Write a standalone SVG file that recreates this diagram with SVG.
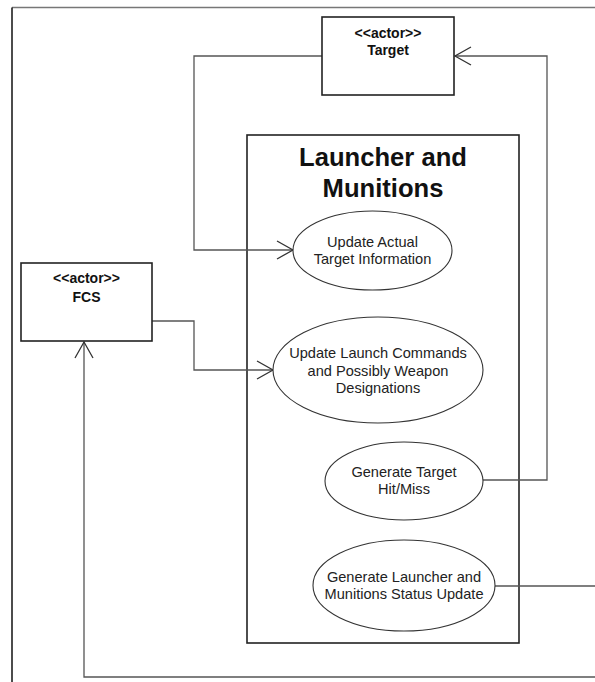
<svg xmlns="http://www.w3.org/2000/svg" width="595" height="682" viewBox="0 0 595 682">
  <style>
    .frame { fill: none; stroke-width: 1.5; }
    .box { fill: #ffffff; stroke: #222222; stroke-width: 1.6; }
    .uc { fill: #ffffff; stroke: #333333; stroke-width: 1.1; }
    .link { fill: none; stroke: #555555; stroke-width: 1.3; }
    .head { fill: none; stroke: #333333; stroke-width: 1.3; }
    .actor { font-family: "Liberation Sans", Arial, sans-serif; font-weight: bold; font-size: 14px; fill: #111111; text-anchor: middle; }
    .label { font-family: "Liberation Sans", Arial, sans-serif; font-size: 14.6px; fill: #222222; text-anchor: middle; }
    .title { font-family: "Liberation Sans", Arial, sans-serif; font-weight: bold; font-size: 25.6px; fill: #111111; text-anchor: middle; }
  </style>
  <defs>
    <marker id="open" markerWidth="20" markerHeight="20" refX="17" refY="10" orient="auto" markerUnits="userSpaceOnUse">
      <path d="M1,1 L17,10 L1,19" class="head"/>
    </marker>
  </defs>

  <rect width="595" height="682" fill="#ffffff"/>

  <!-- page frame -->
  <g id="frame">
    <line x1="12" y1="7.5" x2="595" y2="7.5" class="frame" stroke="#777777"/>
    <line x1="12" y1="7.5" x2="12" y2="682" class="frame" stroke="#111111"/>
  </g>

  <!-- system boundary -->
  <g id="system">
    <rect x="247" y="135" width="272" height="508" class="box"/>
    <text class="title" x="383" y="166">Launcher and</text>
    <text class="title" x="383" y="197">Munitions</text>
  </g>

  <!-- connectors -->
  <g id="connectors">
    <polyline class="link" points="322,56 194,56 194,250 293,250" marker-end="url(#open)"/>
    <polyline class="link" points="152,321 194,321 194,370 273,370" marker-end="url(#open)"/>
    <polyline class="link" points="483,480 547,480 547,56 455,56" marker-end="url(#open)"/>
    <polyline class="link" points="495,586 595,586"/>
    <polyline class="link" points="595,677 84,677 84,342" marker-end="url(#open)"/>
  </g>

  <g id="target">
    <rect x="322" y="17" width="132" height="78" class="box"/>
    <text class="actor" x="388" y="37.5">&lt;&lt;actor&gt;&gt;</text>
    <text class="actor" x="388" y="55">Target</text>
  </g>

  <g id="fcs">
    <rect x="21" y="263" width="131" height="78" class="box"/>
    <text class="actor" x="86.5" y="283">&lt;&lt;actor&gt;&gt;</text>
    <text class="actor" x="86.5" y="302">FCS</text>
  </g>

  <g id="uc-target-info">
    <ellipse cx="372.5" cy="250.5" rx="79.5" ry="39.5" class="uc"/>
    <text class="label" x="372.5" y="247">Update Actual</text>
    <text class="label" x="372.5" y="264">Target Information</text>
  </g>

  <g id="uc-launch-commands">
    <ellipse cx="378" cy="370" rx="105" ry="53" class="uc"/>
    <text class="label" x="378" y="358">Update Launch Commands</text>
    <text class="label" x="378" y="375.5">and Possibly Weapon</text>
    <text class="label" x="378" y="393">Designations</text>
  </g>

  <g id="uc-hit-miss">
    <ellipse cx="404" cy="481" rx="79" ry="39" class="uc"/>
    <text class="label" x="404" y="477">Generate Target</text>
    <text class="label" x="404" y="494">Hit/Miss</text>
  </g>

  <g id="uc-status">
    <ellipse cx="404" cy="585.5" rx="91" ry="45.5" class="uc"/>
    <text class="label" x="404" y="582">Generate Launcher and</text>
    <text class="label" x="404" y="599">Munitions Status Update</text>
  </g>
</svg>
